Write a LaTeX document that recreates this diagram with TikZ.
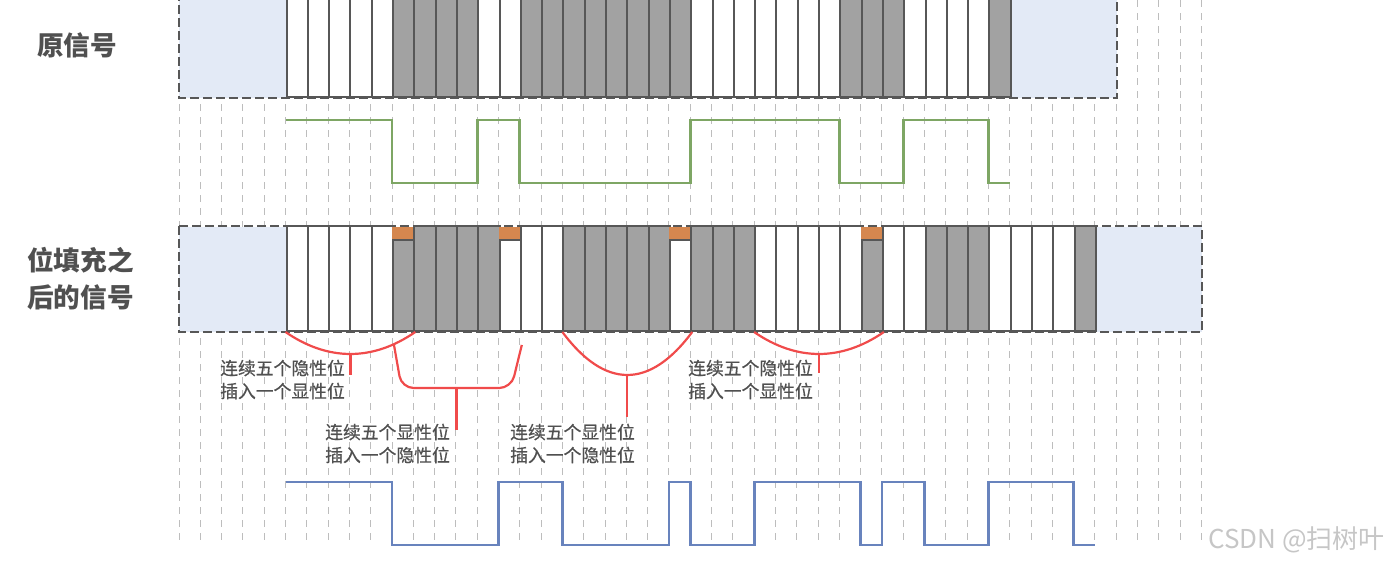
\documentclass[tikz,border=0pt]{standalone}
\usepackage{fontspec}
\setmainfont{Noto Sans CJK SC}
\newfontfamily\notefont{Noto Sans CJK SC}[FakeBold=0.6]
\definecolor{bitgray}{HTML}{A2A2A2}
\definecolor{edge}{HTML}{575757}
\definecolor{pad}{HTML}{E3EAF6}
\definecolor{stuff}{HTML}{D5874F}
\definecolor{origsig}{HTML}{7EA664}
\definecolor{stuffsig}{HTML}{6883BD}
\definecolor{mark}{HTML}{F04B4B}
\definecolor{gridc}{HTML}{BDBDBD}
\definecolor{ink}{HTML}{505050}

\begin{document}
\begin{tikzpicture}[x=10.65pt,y=-0.5pt,
  bit/.style={draw=edge,line width=1pt,inner sep=0pt,minimum width=10.65pt,minimum height=52.5pt,anchor=south west},
  lowbit/.style={bit,minimum height=45.5pt},
  capbox/.style={fill=stuff,inner sep=0pt,minimum width=10.65pt,minimum height=7pt,anchor=south west},
  padbox/.style={fill=pad,inner sep=0pt,minimum width=53.25pt,minimum height=52.5pt,anchor=south west},
  frame/.style={draw=edge,line width=1.2pt,dash pattern=on 4.5pt off 2pt},
  wave/.style={line width=1.4pt},
  brace/.style={draw=mark,line width=1.1pt},
  note/.style={font=\notefont\fontsize{8.9}{11.5}\selectfont,text=ink,align=left,inner sep=0pt},
  title/.style={font=\fontsize{13.3}{18.5}\selectfont\bfseries,text=ink,align=left,inner sep=0pt}]
\clip (-8.4038,0) rectangle (56.9014,562);
\foreach \k in {0,...,48}
  \draw[gridc,line width=0.5pt,dash pattern=on 3.5pt off 3pt] (\k,0) -- (\k,546);

% original frame
\node[padbox] (oL) at (0,98) {};
\node[padbox] (oR) at (39,98) {};
\draw[frame] (oL.north west) rectangle (oR.south east);
\foreach \b [count=\i] in {0,0,0,0,0,1,1,1,1,0,0,1,1,1,1,1,1,1,1,0,0,0,0,0,0,0,1,1,1,0,0,0,0,1}{
  \ifodd\b \def\col{bitgray}\else \def\col{white}\fi
  \node[bit,fill=\col] (o\i) at (4+\i,98) {};
}
\draw[wave,origsig] (5,120) -- (10,120) -- (10,183) -- (14,183) -- (14,120) -- (16,120) -- (16,183)
  -- (24,183) -- (24,120) -- (31,120) -- (31,183) -- (34,183) -- (34,120) -- (38,120) -- (38,183) -- (39,183);

% stuffed frame: 2 = stuffed white, 3 = stuffed gray
\node[padbox] (sL) at (0,332) {};
\node[padbox] (sR) at (43,332) {};
\draw[frame] (sL.north west) rectangle (sR.south east);
\foreach \b [count=\i] in {0,0,0,0,0,3,1,1,1,1,2,0,0,1,1,1,1,1,2,1,1,1,0,0,0,0,0,3,0,0,1,1,1,0,0,0,0,1}{
  \ifodd\b \def\col{bitgray}\else \def\col{white}\fi
  \ifnum\b>1
    \node[capbox] (c\i) at (4+\i,241) {};
    \node[lowbit,fill=\col] (s\i) at (4+\i,332) {};
  \else
    \node[bit,fill=\col] (s\i) at (4+\i,332) {};
  \fi
}

% brackets
\draw[brace] (s1.south west) .. controls +(2,29.3) and +(-2,29.3) .. (s6.south east)
  coordinate[pos=.5] (m1) coordinate[pos=.8333] (j1);
\draw[brace,rounded corners=6pt] (j1) -- (10.45,388) -- (15.6,388) coordinate[pos=.5] (m2)
  -- ([yshift=-6.5pt]s11.south east);
\draw[brace] (s14.south west) .. controls +(2,57.3) and +(-2,57.3) .. (s19.south east) coordinate[pos=.5] (m3);
\draw[brace] (s23.south west) .. controls +(2,29.3) and +(-2,29.3) .. (s28.south east) coordinate[pos=.5] (m4);
\draw[brace] (m1) -- ++(0,21);
\draw[brace] (m2) -- ++(0,42);
\draw[brace] (m3) -- ++(0,42);
\draw[brace] (m4) -- ++(0,19);

\node[note] (n1) at (4.859,379.5) {连续五个隐性位\\插入一个显性位};
\node[note] (n2) at (9.789,443.5) {连续五个显性位\\插入一个隐性位};
\node[note] (n3) at (18.474,443.5) {连续五个显性位\\插入一个隐性位};
\node[note] (n4) at (26.831,379.5) {连续五个隐性位\\插入一个显性位};

\draw[wave,stuffsig] (5,482) -- (10,482) -- (10,545) -- (15,545) -- (15,482) -- (18,482) -- (18,545)
  -- (23,545) -- (23,482) -- (24,482) -- (24,545) -- (27,545) -- (27,482) -- (32,482) -- (32,545)
  -- (33,545) -- (33,482) -- (35,482) -- (35,545) -- (38,545) -- (38,482) -- (42,482) -- (42,545) -- (43,545);

\node[title] (t1) at (-4.789,45) {原信号};
\node[title] (t2) at (-4.624,278.5) {位填充之\\后的信号};
\node[font=\fontsize{13}{14}\selectfont,text=gray!45,inner sep=0pt] (wm) at (52.465,540) {CSDN @扫树叶};
\end{tikzpicture}
\end{document}
